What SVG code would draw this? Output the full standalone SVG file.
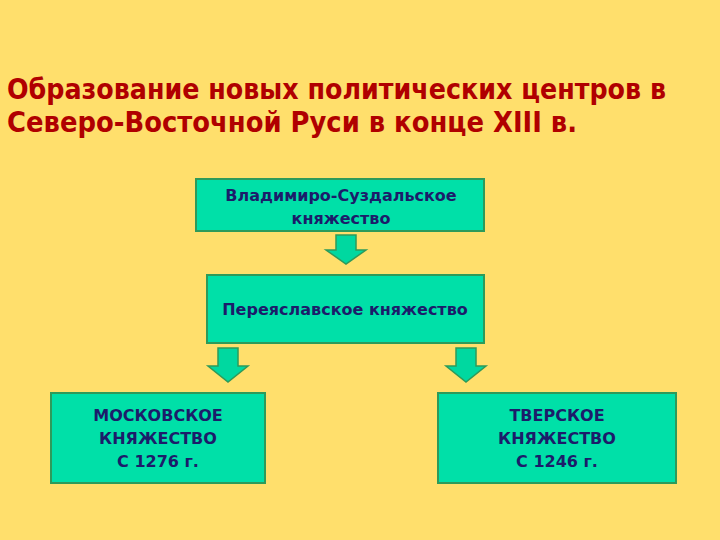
<svg xmlns="http://www.w3.org/2000/svg" width="720" height="540" viewBox="0 0 720 540">
<style>
.box{fill:#00E0A8;stroke:#2E9A5A;stroke-width:2}
.t{font-family:"DejaVu Sans",Verdana,sans-serif;font-weight:bold;font-size:16px;fill:#1C1C6A;text-anchor:middle}
.arr{fill:#00D8A0;stroke:#2E9A5A;stroke-width:1.5}
.title{font-family:"DejaVu Sans Condensed","DejaVu Sans",sans-serif;font-weight:bold;font-size:29px;fill:#B00000}
</style>
<rect width="720" height="540" fill="#FFDF6C"/>
<text class="title" x="7" y="99" textLength="659" lengthAdjust="spacingAndGlyphs">Образование новых политических центров в</text>
<text class="title" x="7" y="132" textLength="570" lengthAdjust="spacingAndGlyphs">Северо-Восточной Руси в конце XIII в.</text>
<g id="connectors">
<path class="arr" d="M336,235 H356 V250 H366 L346,264 L326,250 H336 Z"/>
<path class="arr" d="M218,348 H238 V366 H248 L228,382 L208,366 H218 Z"/>
<path class="arr" d="M456,348 H476 V366 H486 L466,382 L446,366 H456 Z"/>
</g>
<g id="vladimir">
<rect class="box" x="196" y="179" width="288" height="52"/>
<text class="t" x="341" y="201">Владимиро-Суздальское</text>
<text class="t" x="341" y="224">княжество</text>
</g>
<g id="pereyaslavl">
<rect class="box" x="207" y="275" width="277" height="68"/>
<text class="t" x="345" y="315">Переяславское княжество</text>
</g>
<g id="moscow">
<rect class="box" x="51" y="393" width="214" height="90"/>
<text class="t" x="158" y="421">МОСКОВСКОЕ</text>
<text class="t" x="158" y="444">КНЯЖЕСТВО</text>
<text class="t" x="158" y="467">С 1276 г.</text>
</g>
<g id="tver">
<rect class="box" x="438" y="393" width="238" height="90"/>
<text class="t" x="557" y="421">ТВЕРСКОЕ</text>
<text class="t" x="557" y="444">КНЯЖЕСТВО</text>
<text class="t" x="557" y="467">С 1246 г.</text>
</g>
</svg>
